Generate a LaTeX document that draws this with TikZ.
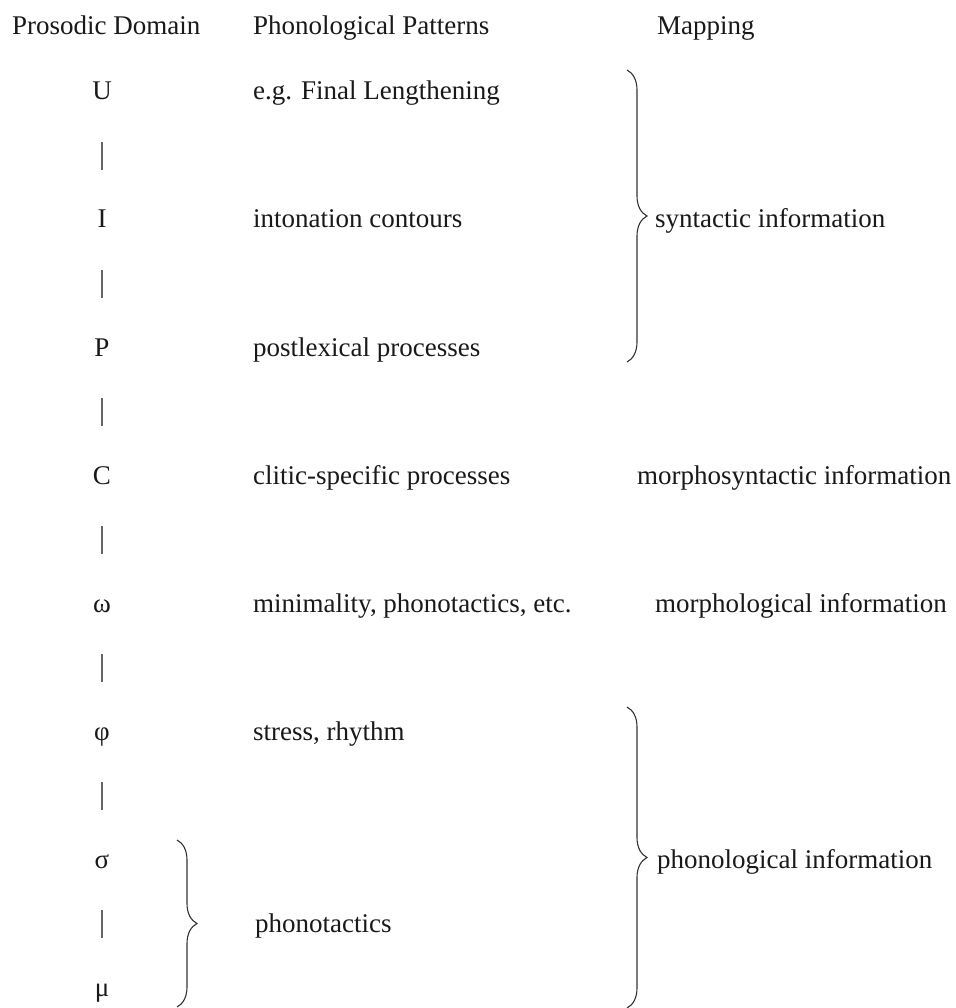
\documentclass[tikz,border=0pt]{standalone}
\usepackage{fontspec}
\setmainfont{Liberation Serif}
\usetikzlibrary{decorations.pathreplacing,calc}
\begin{document}
\begin{tikzpicture}[x=1pt,y=-1pt,
  txt/.style={inner sep=0pt, font=\fontsize{27}{32}\selectfont, text=black!90},
  lbl/.style={txt, anchor=base west},
  dom/.style={txt, anchor=base},
  link/.style={draw=black!60, line width=1.2pt},
  bracket/.style={draw=black!80, line width=1.1pt, decorate,
                  decoration={brace, amplitude=20pt}},
]
\useasboundingbox (0,0) rectangle (955,1008);

% column headings
\node[lbl] (hDom) at (12,35)  {Prosodic Domain};
\node[lbl] (hPat) at (253,35) {Phonological Patterns};
\node[lbl] (hMap) at (657,35) {Mapping};

% prosodic hierarchy
\node[dom] (U)  at (102,100) {U};
\node[dom] (I)  at (102,228) {I};
\node[dom] (P)  at (102,356) {P};
\node[dom] (C)  at (102,484) {C};
\node[dom] (w)  at (102,612) {ω};
\node[dom] (f)  at (102,740) {φ};
\node[dom] (s)  at (102,868) {σ};
\node[dom] (m)  at (102,996) {μ};

\foreach \a/\b in {U/I, I/P, P/C, C/w, w/f, f/s, s/m}
  \draw[link] ($(\a.base)!0.33!(\b.base)$) -- ($(\a.base)!0.55!(\b.base)$);

% phonological patterns
\node[lbl] (pU) at (253,100) {e.g. Final Lengthening};
\node[lbl] (pI) at (253,228) {intonation contours};
\node[lbl] (pP) at (253,356) {postlexical processes};
\node[lbl] (pC) at (253,484) {clitic-specific processes};
\node[lbl] (pw) at (253,612) {minimality, phonotactics, etc.};
\node[lbl] (pf) at (253,740) {stress, rhythm};
\node[lbl] (ps) at (255,932) {phonotactics};

% mapping
\node[lbl] (mSyn)  at (655,228) {syntactic information};
\node[lbl] (mMsyn) at (637,484) {morphosyntactic information};
\node[lbl] (mMorph) at (655,612) {morphological information};
\node[lbl] (mPhon) at (657,868) {phonological information};

% braces
\coordinate (b1t) at (627,70);   \coordinate (b1b) at (627,362);
\coordinate (b2t) at (627,707);  \coordinate (b2b) at (627,1008);
\coordinate (b3t) at (177,840);  \coordinate (b3b) at (177,1007);
\draw[bracket] (b1t) -- (b1b);
\draw[bracket] (b2t) -- (b2b);
\draw[bracket] (b3t) -- (b3b);
\end{tikzpicture}
\end{document}
